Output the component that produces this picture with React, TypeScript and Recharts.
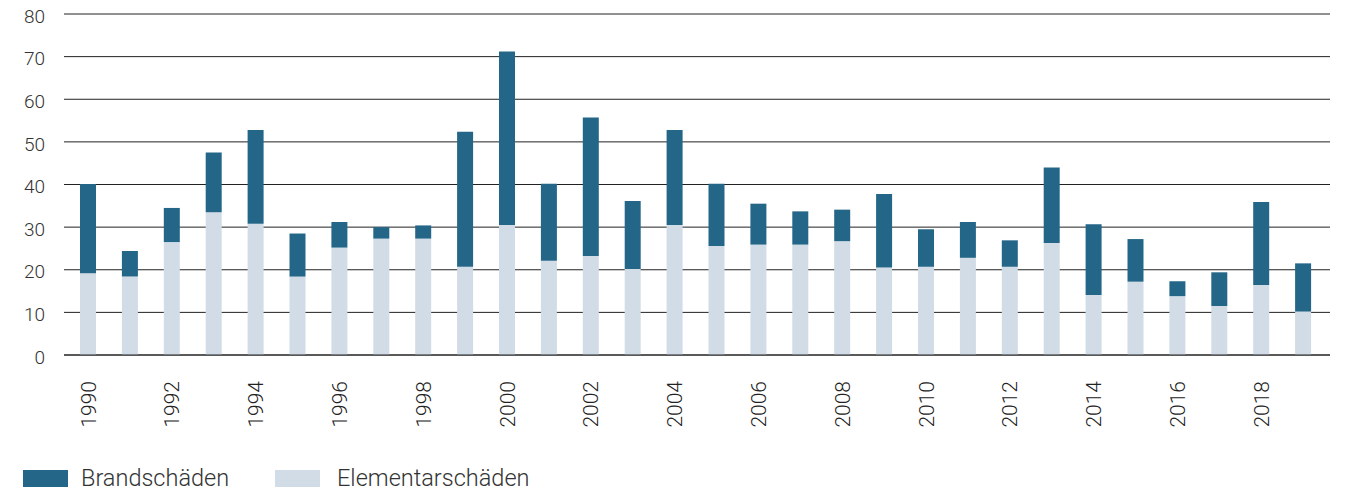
import React from "react";
import { BarChart, Bar, XAxis, YAxis, CartesianGrid, Legend } from "recharts";

const years = [
  "1990","1991","1992","1993","1994","1995","1996","1997","1998","1999",
  "2000","2001","2002","2003","2004","2005","2006","2007","2008","2009",
  "2010","2011","2012","2013","2014","2015","2016","2017","2018","2019",
];
const elementar = [
  19.2, 18.4, 26.5, 33.5, 30.8, 18.4, 25.2, 27.3, 27.3, 20.7,
  30.5, 22.1, 23.2, 20.2, 30.5, 25.6, 25.9, 25.9, 26.7, 20.5,
  20.7, 22.8, 20.7, 26.3, 14.1, 17.2, 13.8, 11.5, 16.4, 10.2,
];
const brand = [
  20.9, 6.0, 8.0, 14.0, 22.0, 10.1, 6.0, 2.7, 3.1, 31.7,
  40.7, 18.1, 32.5, 15.9, 22.3, 14.6, 9.6, 7.8, 7.4, 17.3,
  8.8, 8.4, 6.2, 17.7, 16.6, 10.0, 3.5, 7.9, 19.5, 11.3,
];
const yTicks = [0, 10, 20, 30, 40, 50, 60, 70, 80];

const DARK = "#246688";
const LIGHT = "#d1dce7";
const FONT = "Roboto, 'Liberation Sans', sans-serif";

const data = years.map((y, i) => ({ year: y, elementar: elementar[i], brand: brand[i] }));

const XTick = (props: any) => {
  const { x, y, payload } = props;
  return (
    <g transform={`translate(${x},${y})`}>
      <text
        transform="rotate(-90)"
        x={-18}
        y={0}
        dy="0.36em"
        textAnchor="end"
        fontSize={21}
        fontWeight={300}
        fontFamily={FONT}
        fill="#222"
      >
        {payload.value}
      </text>
    </g>
  );
};

const LegendContent = () => (
  <div style={{ position: "relative", height: 23, fontFamily: FONT, fontWeight: 300, fontSize: 23.5, color: "#333" }}>
    <div style={{ position: "absolute", left: 23, top: 0, width: 45, height: 17, background: DARK }} />
    <div style={{ position: "absolute", left: 81, top: -6, lineHeight: "28px", whiteSpace: "nowrap" }}>Brandschäden</div>
    <div style={{ position: "absolute", left: 275, top: 0, width: 45, height: 17, background: LIGHT }} />
    <div style={{ position: "absolute", left: 337, top: -6, lineHeight: "28px", whiteSpace: "nowrap" }}>Elementarschäden</div>
  </div>
);

export default function App() {
  return (
    <div style={{ position: "absolute", left: 0, top: 0, width: 1347, height: 493, background: "#fff" }}>
      <BarChart
        width={1347}
        height={493}
        data={data}
        margin={{ top: 14, right: 17, left: 0, bottom: 35 }}
      >
        <CartesianGrid vertical={false} stroke="#222" strokeWidth={1} />
        <XAxis
          dataKey="year"
          interval={1}
          height={80}
          tick={<XTick />}
          tickLine={false}
          axisLine={{ stroke: "#222" }}
          padding={{ left: 3, right: 6 }}
        />
        <YAxis
          width={64}
          domain={[0, 80]}
          ticks={yTicks}
          tickLine={false}
          axisLine={false}
          tickSize={0}
          tickMargin={19}
          tick={{ fontSize: 19, fontWeight: 300, fontFamily: FONT, fill: "#333", dy: 2 }}
        />
        <Legend
          verticalAlign="bottom"
          content={<LegendContent />}
          wrapperStyle={{ position: "absolute", left: 0, top: 470, width: 1347, height: 23 }}
        />
        <Bar dataKey="elementar" stackId="a" fill={LIGHT} barSize={16} isAnimationActive={false} />
        <Bar dataKey="brand" stackId="a" fill={DARK} barSize={16} isAnimationActive={false} />
      </BarChart>
    </div>
  );
}
